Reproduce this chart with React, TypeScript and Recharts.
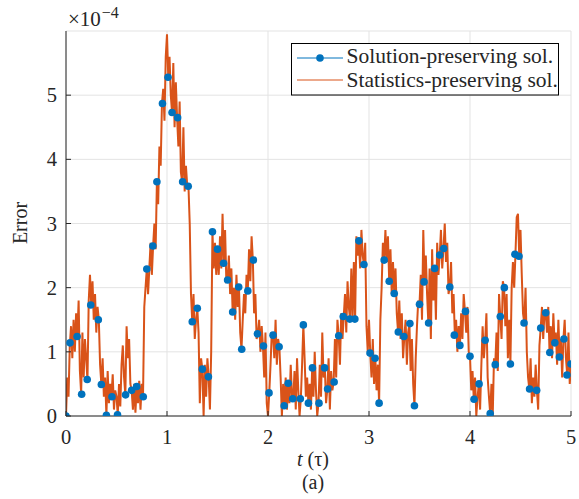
import { LineChart, Line, XAxis, YAxis, CartesianGrid } from "recharts";

// values are in units of 1e-4 (the axis carries the x10^-4 factor)
const X_TICKS = [0, 1, 2, 3, 4, 5];
const Y_TICKS = [0, 1, 2, 3, 4, 5];

// solution-preserving sol. (markers)
const solT = [
  0, 0.04, 0.11, 0.155, 0.21, 0.245, 0.32, 0.35, 0.4, 0.455, 0.51, 0.59, 0.65, 0.7, 0.765, 0.8, 0.86, 0.9, 0.955, 1.01,
  1.05, 1.105, 1.155, 1.21, 1.25, 1.3, 1.35, 1.41, 1.45, 1.5, 1.56, 1.6, 1.65, 1.71, 1.74, 1.8, 1.855, 1.895, 1.955, 2.01,
  2.05, 2.11, 2.16, 2.2, 2.245, 2.32, 2.35, 2.4, 2.44, 2.505, 2.56, 2.59, 2.655, 2.7, 2.745, 2.81, 2.86, 2.9, 2.95, 3.01,
  3.06, 3.1, 3.15, 3.2, 3.25, 3.29, 3.345, 3.405, 3.45, 3.5, 3.545, 3.59, 3.65, 3.7, 3.74, 3.8, 3.845, 3.9, 3.955, 4.0,
  4.04, 4.09, 4.15, 4.2, 4.25, 4.3, 4.34, 4.4, 4.445, 4.485, 4.535, 4.59, 4.66, 4.7, 4.75, 4.79, 4.84, 4.885, 4.93, 4.96, 5.0,
];
const solV = [
  0, 1.14, 1.24, 0.34, 0.57, 1.73, 1.5, 0.49, 0.01, 0.3, 0.02, 0.33, 0.4, 0.46, 0.3, 2.29, 2.65, 3.65, 4.87, 5.28,
  4.73, 4.65, 3.65, 3.58, 1.47, 1.68, 0.73, 0.61, 2.87, 2.6, 2.38, 2.12, 1.62, 2.01, 1.04, 1.95, 2.43, 1.28, 1.09, 0.36,
  1.26, 1.08, 0.16, 0.51, 0.27, 0.27, 1.42, 0.2, 0.75, 0.2, 0.75, 0.42, 0.53, 1.25, 1.55, 1.51, 1.51, 2.73, 2.36, 0.98,
  0.9, 0.2, 2.43, 2.1, 1.91, 1.31, 1.24, 1.44, 0.16, 1.74, 2.09, 1.45, 2.3, 2.51, 2.61, 2.01, 1.26, 1.1, 1.63, 0.93,
  0.26, 0.5, 1.18, 0.04, 0.8, 1.55, 2.0, 0.81, 2.52, 2.49, 1.45, 0.42, 0.4, 1.37, 1.61, 0.99, 1.14, 0.92, 1.2, 0.64, 0.81,
];

// statistics-preserving sol., sampled every STAT_DT
const STAT_DT = 0.0125;
const statV = [
  0, 0.6, 0.3, 1.1, 1.4, 0.9, 1.5, 1.0, 1.6, 1.25, 1.8, 0.7, 0.35, 1.3, 0.6, 1.2, 0.9, 0.55, 1.8, 2.2,
  1.73, 2.1, 1.5, 1.9, 1.3, 1.7, 1.5, 0.8, 0.49, 0.9, 0.3, 0.6, 0.01, 0.7, 0.2, 0.5, 0.3, 0.65, 0.1, 0.4,
  0.3, 0.02, 0.5, 0.15, 0.8, 1.1, 0.6, 0.33, 1.4, 0.9, 1.2, 0.5, 0.4, 0.1, 0.5, 0.05, 0.46, 0.2, 0.55, 0.1,
  0.5, 0.3, 1.7, 2.0, 2.29, 1.9, 2.3, 2.7, 2.2, 2.65, 3.0, 2.6, 3.65, 3.3, 4.2, 3.9, 4.87, 5.1, 4.6, 5.6,
  5.95, 5.28, 5.6, 5.0, 4.73, 5.5, 4.5, 5.2, 4.65, 4.2, 4.9, 3.8, 3.65, 4.5, 3.5, 3.9, 3.6, 3.58, 3.0, 1.9,
  1.47, 1.9, 1.2, 1.5, 1.68, 1.3, 0.2, 0.9, 0.73, 0.0, 0.8, 0.3, 0.9, 0.61, 0.1, 1.0, 2.87, 2.3, 2.7, 2.2,
  2.6, 2.2, 2.8, 2.3, 3.15, 2.38, 2.9, 2.1, 2.12, 2.5, 1.9, 2.3, 1.62, 2.0, 1.5, 2.2, 1.7, 2.01, 1.3, 1.04,
  1.5, 1.9, 1.6, 2.2, 1.95, 2.6, 2.1, 2.8, 2.43, 1.6, 1.9, 1.2, 1.28, 1.5, 1.0, 1.4, 1.09, 0.6, 1.3, 0.2,
  0.0, 0.36, 0.8, 1.3, 1.26, 0.9, 1.5, 0.8, 1.2, 1.08, 0.6, 0.0, 0.5, 0.16, 0.6, 0.1, 0.51, 0.2, 0.8, 0.3,
  0.27, 0.7, 0.1, 0.9, 0.4, 0.0, 0.27, 0.8, 1.42, 0.9, 0.3, 0.6, 0.2, 0.5, 0.1, 0.75, 0.3, 1.0, 0.4, 0.0,
  0.2, 0.8, 0.3, 1.3, 0.6, 0.75, 0.2, 0.42, 0.9, 0.1, 0.7, 0.4, 0.53, 1.2, 0.6, 1.5, 1.25, 0.8, 1.6, 1.2,
  1.55, 1.9, 1.3, 2.1, 1.7, 1.51, 2.3, 1.5, 2.4, 1.51, 2.8, 2.5, 2.73, 2.3, 2.9, 2.5, 2.36, 2.7, 1.4, 1.0,
  1.5, 0.98, 0.6, 1.2, 0.5, 0.9, 0.4, 0.8, 0.2, 1.5, 2.0, 2.7, 2.43, 2.9, 2.4, 2.8, 2.1, 2.6, 1.9, 2.4,
  1.91, 2.3, 1.6, 1.31, 1.8, 1.2, 1.6, 0.9, 1.24, 1.5, 0.8, 1.3, 1.44, 0.7, 1.2, 0.5, 0.16, 0.9, 1.4, 1.8,
  1.74, 2.2, 1.5, 2.9, 2.09, 2.5, 1.9, 1.45, 2.3, 1.2, 2.6, 1.8, 2.3, 1.5, 2.7, 2.2, 2.51, 2.9, 2.3, 2.61,
  3.0, 2.4, 2.7, 1.9, 2.01, 2.4, 1.6, 1.9, 1.26, 1.5, 1.0, 1.4, 1.1, 1.6, 1.2, 1.9, 1.63, 1.3, 1.7, 1.0,
  0.93, 0.4, 0.7, 0.26, 0.6, 0.0, 0.3, 0.5, 0.1, 0.8, 1.4, 0.9, 1.18, 1.6, 0.6, 0.3, 0.04, 0.5, 0.0, 0.9,
  0.8, 1.3, 0.7, 1.9, 1.55, 1.2, 2.1, 2.0, 1.4, 1.9, 0.9, 1.5, 0.81, 2.0, 2.4, 2.0, 2.52, 3.1, 3.15, 2.49,
  2.9, 2.2, 1.6, 1.45, 2.0, 1.0, 0.6, 0.42, 0.9, 0.2, 0.6, 0.3, 0.8, 0.4, 0.1, 1.1, 1.37, 1.7, 1.2, 1.61,
  1.61, 1.3, 1.7, 0.99, 1.4, 0.9, 1.6, 1.14, 1.3, 0.8, 1.5, 0.92, 1.2, 0.6, 1.2, 1.5, 0.9, 0.64, 1.3, 0.5,
  0.81,
];

const solData = solT.map((t, i) => ({ t, v: solV[i] }));
const statData = statV.map((v, i) => ({ t: i * STAT_DT, v }));

const BLUE = "#0072BD";
const ORANGE = "#D95319";
const INK = "#262626";
const FONT = "'Liberation Serif', 'Times New Roman', serif";

const W = 579;
const H = 499;

// drop the default body margin so the chart fills the window exactly
document.body.style.margin = "0";

const txt = (size: number, extra: any = {}) => ({ fontFamily: FONT, fontSize: size, fill: INK, ...extra });

const YTick = ({ x, y, payload }: any) => (
  <g>
    <line x1={x} x2={x + 5} y1={y} y2={y} stroke={INK} />
    <text x={x - 9} y={y + 7} textAnchor="end" style={txt(20.5)}>
      {payload.value}
    </text>
  </g>
);

const XTick = ({ x, y, payload }: any) => (
  <g>
    <line x1={x} x2={x} y1={y} y2={y - 5} stroke={INK} />
    <text x={x} y={y + 28} textAnchor="middle" style={txt(20.5)}>
      {payload.value}
    </text>
  </g>
);

export default function App() {
  return (
    <div style={{ position: "relative", width: W, height: H, background: "#fff" }}>
      <LineChart width={W} height={H} margin={{ top: 31, right: 8, left: 0, bottom: 0 }}>
        <CartesianGrid stroke="#e3e3e3" strokeWidth={1} />
        <XAxis
          type="number"
          dataKey="t"
          domain={[0, 5]}
          ticks={X_TICKS}
          height={83}
          stroke={INK}
          tickLine={false}
          tickSize={0}
          tickMargin={0}
          tick={<XTick />}
          allowDataOverflow
        />
        <YAxis
          type="number"
          dataKey="v"
          domain={[0, 6]}
          ticks={Y_TICKS}
          width={66}
          stroke={INK}
          tickLine={false}
          tickSize={0}
          tickMargin={0}
          tick={<YTick />}
          allowDataOverflow
        />
        <Line
          data={solData}
          dataKey="v"
          type="linear"
          stroke="none"
          dot={{ r: 3.8, fill: BLUE, stroke: BLUE, strokeWidth: 0 }}
          isAnimationActive={false}
        />
        <Line
          data={statData}
          dataKey="v"
          type="linear"
          stroke={ORANGE}
          strokeWidth={2}
          dot={false}
          isAnimationActive={false}
        />
      </LineChart>
      <svg width={W} height={H} style={{ position: "absolute", left: 0, top: 0, pointerEvents: "none" }}>
        <text x={68} y={26} style={txt(21)}>
          ×10<tspan style={{ fontSize: 16 }} dx={1} dy={-8}>−4</tspan>
        </text>
        <text x={27} y={223} textAnchor="middle" transform="rotate(-90 27 223)" style={txt(20)}>
          Error
        </text>
        <text x={313} y={466} textAnchor="middle" style={txt(20)}>
          <tspan style={{ fontStyle: "italic" }}>t</tspan> (τ)
        </text>
        <text x={313} y={489} textAnchor="middle" style={txt(20)}>
          (a)
        </text>
        <rect x={291.5} y={43.5} width={267} height={51.5} fill="#fff" stroke="#000" strokeWidth={1} />
        <line x1={297} x2={343} y1={58} y2={58} stroke={BLUE} strokeWidth={1} />
        <circle cx={320} cy={58} r={3.8} fill={BLUE} />
        <text x={346.5} y={63} style={txt(21.5)}>
          Solution-preserving sol.
        </text>
        <line x1={297} x2={343} y1={80} y2={80} stroke={ORANGE} strokeWidth={1} />
        <text x={346.5} y={87} style={txt(21.5)}>
          Statistics-preserving sol.
        </text>
      </svg>
    </div>
  );
}
